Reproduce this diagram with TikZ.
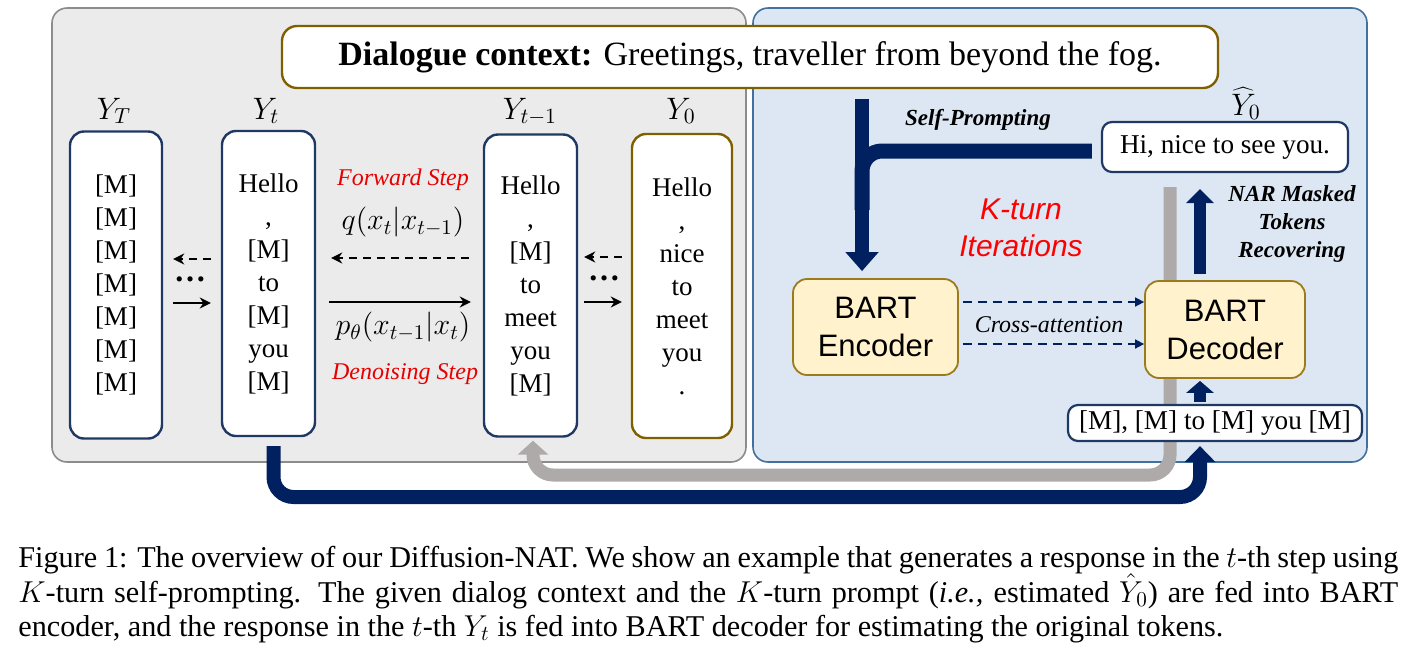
\RequirePackage{fix-cm}
\documentclass[tikz,border=0pt]{standalone}
\usepackage{fontspec}
\setmainfont{Liberation Serif}
\setsansfont{Liberation Sans}
\usetikzlibrary{arrows.meta}
\definecolor{navy}{HTML}{002060}
\definecolor{boxnavy}{HTML}{1F3864}
\definecolor{olive}{HTML}{7F6000}
\definecolor{grayfill}{HTML}{EBEBEB}
\definecolor{graybd}{HTML}{8C8C8C}
\definecolor{bluefill}{HTML}{DDE7F3}
\definecolor{bluebd}{HTML}{41719C}
\definecolor{yelfill}{HTML}{FFF2CC}
\definecolor{yelbd}{HTML}{9C7A1E}
\definecolor{grayarr}{HTML}{AEAAAA}
\definecolor{redtxt}{HTML}{E60000}
\pgfdeclarelayer{back}
\pgfdeclarelayer{mid}
\pgfsetlayers{back,mid,main}
\begin{document}
\begin{tikzpicture}[x=0.5pt,y=-0.5pt,
  panel/.style={draw, rounded corners=7.5pt, line width=0.8pt, inner sep=0pt},
  ybox/.style={draw=boxnavy, fill=white, rounded corners=7pt, line width=1.2pt, align=center, inner sep=0pt, font=\fontsize{13.5}{16.5}\selectfont},
  lab/.style={anchor=base, inner sep=0pt, font=\fontsize{15.5}{17}\selectfont},
  mlab/.style={inner sep=0pt, font=\fontsize{15}{17}\selectfont},
  bart/.style={draw=yelbd, fill=yelfill, rounded corners=7pt, line width=0.9pt, align=center, inner sep=0pt, font=\sffamily\fontsize{15.5}{19}\selectfont},
  wbox/.style={draw=boxnavy, fill=white, rounded corners=5pt, line width=1.1pt, inner sep=0pt, font=\fontsize{13.6}{16}\selectfont},
  thinarr/.style={line width=1.1pt, -{Stealth[length=5.5pt,width=5.5pt]}},
  dsh/.style={dash pattern=on 4pt off 3pt},
  redlab/.style={text=redtxt, inner sep=0pt, font=\fontsize{12}{14}\selectfont\itshape},
  bigarr/.style={line width=7pt, navy, -{Triangle[width=16pt,length=9.5pt]}},
  dotnode/.style={inner sep=0pt, font=\fontsize{16}{16}\selectfont\bfseries},
  captext/.style={anchor=base west, inner sep=0pt, font=\fontsize{15.1}{17}\selectfont}
]
\useasboundingbox (0,0) rectangle (1416,649);
% panels
\begin{pgfonlayer}{back}
\node[panel, draw=graybd, fill=grayfill, minimum width=347pt, minimum height=227pt] (lp) at (399,235) {};
\node[panel, draw=bluebd, fill=bluefill, minimum width=307pt, minimum height=227pt] (rp) at (1060,235) {};
\end{pgfonlayer}
% context
\node[draw=olive, fill=white, rounded corners=7.5pt, line width=1.2pt, minimum width=468pt, minimum height=31pt, inner sep=0pt, font=\fontsize{17}{20}\selectfont] (ctx) at (750,57) {\textbf{Dialogue context:} Greetings, traveller from beyond the fog.};
% Y boxes
\node[ybox, minimum width=46pt, minimum height=153.5pt] (yT) at (116,285) {{[M]}\\{[M]}\\{[M]}\\{[M]}\\{[M]}\\{[M]}\\{[M]}};
\node[ybox, minimum width=46.5pt, minimum height=152.5pt] (yt) at (268.5,283.5) {Hello\\,\\{[M]}\\to\\{[M]}\\you\\{[M]}};
\node[ybox, minimum width=46.5pt, minimum height=151pt] (yt1) at (530.5,285.5) {Hello\\,\\{[M]}\\to\\meet\\you\\{[M]}};
\node[ybox, draw=olive, minimum width=50pt, minimum height=152pt] (y0) at (682,286) {Hello\\,\\nice\\to\\meet\\you\\.};
\node[lab] (lyT) at (114,119) {$Y_T$};
\node[lab] (lyt) at (266,119) {$Y_t$};
\node[lab] (lyt1) at (530,119) {$Y_{t-1}$};
\node[lab] (ly0) at (681,119) {$Y_0$};
% arrows between boxes
\draw[thinarr, dsh] ([shift={(-10,-24.5)}]yt.west) -- ([shift={(10,-26)}]yT.east);
\draw[thinarr] ([shift={(10,18)}]yT.east) -- ([shift={(-10,19.5)}]yt.west);
\node[dotnode] (d1) at (190,279) {…};
\draw[thinarr, dsh] ([shift={(-14,-27.5)}]yt1.west) -- ([shift={(15,-25.5)}]yt.east);
\draw[thinarr] ([shift={(13,18.5)}]yt.east) -- ([shift={(-12,16.5)}]yt1.west);
\draw[thinarr, dsh] ([shift={(-9,-29)}]y0.west) -- ([shift={(6,-28.5)}]yt1.east);
\draw[thinarr] ([shift={(6,16.5)}]yt1.east) -- ([shift={(-9,16)}]y0.west);
\node[dotnode] (d2) at (604,278) {…};
\node[redlab] (fs) at (403,180) {Forward Step};
\node[mlab] (qf) at (403,222) {$q(x_t|x_{t-1})$};
\node[mlab] (pf) at (403,327) {$p_\theta(x_{t-1}|x_t)$};
\node[redlab] (ds) at (405,374) {Denoising Step};
% right panel
\node[wbox, minimum width=123pt, minimum height=25pt] (hi) at (1225,147) {Hi, nice to see you.};
\node[lab] (lhat) at (1246,115) {$\widehat{Y}_0$};
\node[bart, minimum width=82.5pt, minimum height=48pt] (enc) at (875.5,327) {BART\\Encoder};
\node[bart, minimum width=80pt, minimum height=48.5pt] (dec) at (1225,329.5) {BART\\Decoder};
\node[wbox, minimum width=147pt, minimum height=18pt] (mask) at (1215,423) {[M], [M] to [M] you [M]};
\node[inner sep=0pt, font=\fontsize{11.5}{13}\selectfont\bfseries\itshape] (sp) at (978,120) {Self-Prompting};
\node[inner sep=0pt, text=red, align=center, font=\sffamily\itshape\fontsize{15}{18.5}\selectfont] (kt) at (1021,228) {K-turn\\Iterations};
\node[inner sep=0pt, align=center, font=\fontsize{11.5}{14.2}\selectfont\bfseries\itshape] (nar) at (1292,224) {NAR Masked\\Tokens\\Recovering};
\node[inner sep=0pt, font=\fontsize{12}{14}\selectfont\itshape] (ca) at (1049,325) {Cross-attention};
\draw[navy, line width=0.8pt, dash pattern=on 4.5pt off 3pt, -{Triangle[length=4.5pt,width=4.5pt]}] ([shift={(4,-25)}]enc.east) -- ([shift={(0,-27.5)}]dec.west);
\draw[navy, line width=0.8pt, dash pattern=on 4.5pt off 3pt, -{Triangle[length=4.5pt,width=4.5pt]}] ([shift={(4,17)}]enc.east) -- ([shift={(0,14.5)}]dec.west);
\begin{pgfonlayer}{mid}
% gray feedback
\draw[grayarr, line width=6.5pt, rounded corners=10pt, -{Triangle[width=15pt,length=7pt]}] ([shift={(-55,14)}]hi.south) -- (1170,475) -- (533,475) -- ([shift={(2.5,3)}]yt1.south);
% navy bottom
\draw[bigarr, rounded corners=10pt, -{Triangle[width=15pt,length=8pt]}] ([shift={(5,9)}]yt.south) -- (273.5,497) -- (1200,497) -- ([shift={(-15,4)}]mask.south);
% self prompting
\draw[bigarr] ([shift={(112,10)}]ctx.south) -- ([shift={(-13.5,-7)}]enc.north);
\draw[navy, line width=7.5pt, rounded corners=10pt] ([shift={(-9,4)}]hi.west) -| (862,210);
% NAR arrow
\draw[navy, line width=6pt, -{Triangle[width=13.5pt,length=7pt]}] ([shift={(-25,-6)}]dec.north) -- ([shift={(-25,16)}]hi.south);
\draw[navy, line width=6pt, -{Triangle[width=13.5pt,length=6pt]}] ([shift={(-15,-2)}]mask.north) -- ([shift={(-25,2)}]dec.south);
\end{pgfonlayer}
% caption
\node[captext] (c1) at (18,567) {\makebox[690pt][s]{Figure 1: The overview of our Diffusion-NAT. We show an example that generates a response in the $t$-th step using}};
\node[captext] (c2) at (18,602) {\makebox[690pt][s]{$K$-turn self-prompting. The given dialog context and the $K$-turn prompt (\textit{i.e.,} estimated $\hat{Y}_0$) are fed into BART}};
\node[captext] (c3) at (18,636) {encoder, and the response in the $t$-th $Y_t$ is fed into BART decoder for estimating the original tokens.};
\end{tikzpicture}
\end{document}
